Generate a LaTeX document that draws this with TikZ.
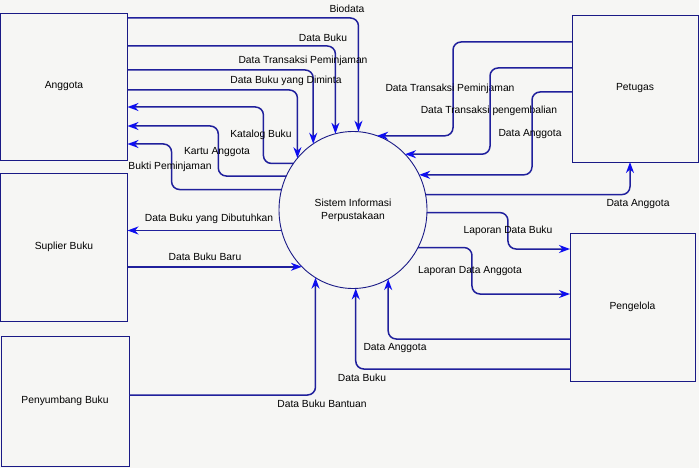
\documentclass[tikz,border=0pt]{standalone}
\usepackage{fontspec}
\setmainfont{Liberation Sans}
\usetikzlibrary{arrows.meta,shapes.geometric}
\definecolor{navy}{HTML}{1A1A86}
\definecolor{flowblue}{HTML}{20209C}
\definecolor{tipblue}{HTML}{0E0EF0}
\definecolor{paper}{HTML}{F6F6F4}
\begin{document}
\begin{tikzpicture}[x=1pt,y=-1pt,font=\fontsize{10.3}{13}\selectfont,
  ent/.style={draw=navy,line width=.9pt,outer sep=0pt,fill=paper},
  flow/.style={draw=flowblue,line width=1.5pt,rounded corners=8pt,-{Stealth[length=11pt,width=8pt,inset=3.5pt,color=tipblue]}}]
\fill[paper] (0,0) rectangle (699,468);\useasboundingbox (0,0) rectangle (699,468);
% entities and process
\node[ent,minimum width=127pt,minimum height=147pt] (ang) at (64,86.5){Anggota};
\node[ent,minimum width=127pt,minimum height=148pt] (sup) at (64,247){Suplier Buku};
\node[ent,minimum width=128pt,minimum height=130pt] (pny) at (65,401){Penyumbang Buku};
\node[ent,minimum width=126pt,minimum height=147pt] (pet) at (635,88.5){Petugas};
\node[ent,minimum width=125pt,minimum height=148pt] (pgl) at (632.5,307){Pengelola};
\node[ent,ellipse,minimum width=148pt,minimum height=157pt,align=center] (sis) at (353,210){Sistem Informasi\\Perpustakaan};
% Anggota
\draw[flow] (ang.east |- 0,18) -| (sis.86);\node (lbio) at (347,9){Biodata};
\draw[flow] (ang.east |- 0,46) -| (sis.103);\node (ldb) at (323,38){Data Buku};
\draw[flow] (ang.east |- 0,70) -| (sis.121);\node (ldtp) at (303,61){Data Transaksi Peminjaman};
\draw[flow] (ang.east |- 0,90) -| (sis.137);\node (ldbm) at (286,81){Data Buku yang Diminta};
\draw[flow] (sis.142) -- ++(-30,0) |- (ang.east |- 0,107);\node (lkat) at (261,135){Katalog Buku};
\draw[flow] (sis.153) -- ++(-68,0) |- (ang.east |- 0,126);\node (lkar) at (217,152){Kartu Anggota};
\draw[flow] (sis.164) -- ++(-110,0) |- (ang.east |- 0,144);\node (lbuk) at (170,167){Bukti Peminjaman};
% Suplier and Penyumbang
\draw[flow] (sis.196) -- (sup.east |- sis.196);\node (ldbd) at (209,219){Data Buku yang Dibutuhkan};
\draw[flow] (sup.east |- sis.228) -- (sis.228);\node (ldbb) at (205,257){Data Buku Baru};
\draw[flow] (pny.east |- 0,395) -| (sis.241);\node (lban) at (322,404){Data Buku Bantuan};
% Petugas
\draw[flow] (pet.west |- 0,42) -- ++(-119,0) |- (sis.72);\node (ltp) at (450,89){Data Transaksi Peminjaman};
\draw[flow] (pet.west |- 0,68) -- ++(-82,0) |- (sis.47);\node (ltk) at (489,111){Data Transaksi pengembalian};
\draw[flow] (pet.west |- 0,92) -- ++(-40,0) |- (sis.28);\node (lpa) at (530,134){Data Anggota};
\draw[flow] (sis.12) -| ([xshift=-5pt]pet.south);\node (lsa) at (638,204){Data Anggota};
% Pengelola
\draw[flow] (sis.358) -- ++(81,0) |- (pgl.west |- 0,249);\node (lldb) at (508,231){Laporan Data Buku};
\draw[flow] (sis.330) -- ++(54,0) |- (pgl.west |- 0,294);\node (llda) at (470,271){Laporan Data Anggota};
\draw[flow] (pgl.west |- 0,339) -| (sis.297);\node (lga) at (395,348){Data Anggota};
\draw[flow] (pgl.west |- 0,369) -| (sis.272);\node (lgb) at (362,378){Data Buku};
\end{tikzpicture}
\end{document}
